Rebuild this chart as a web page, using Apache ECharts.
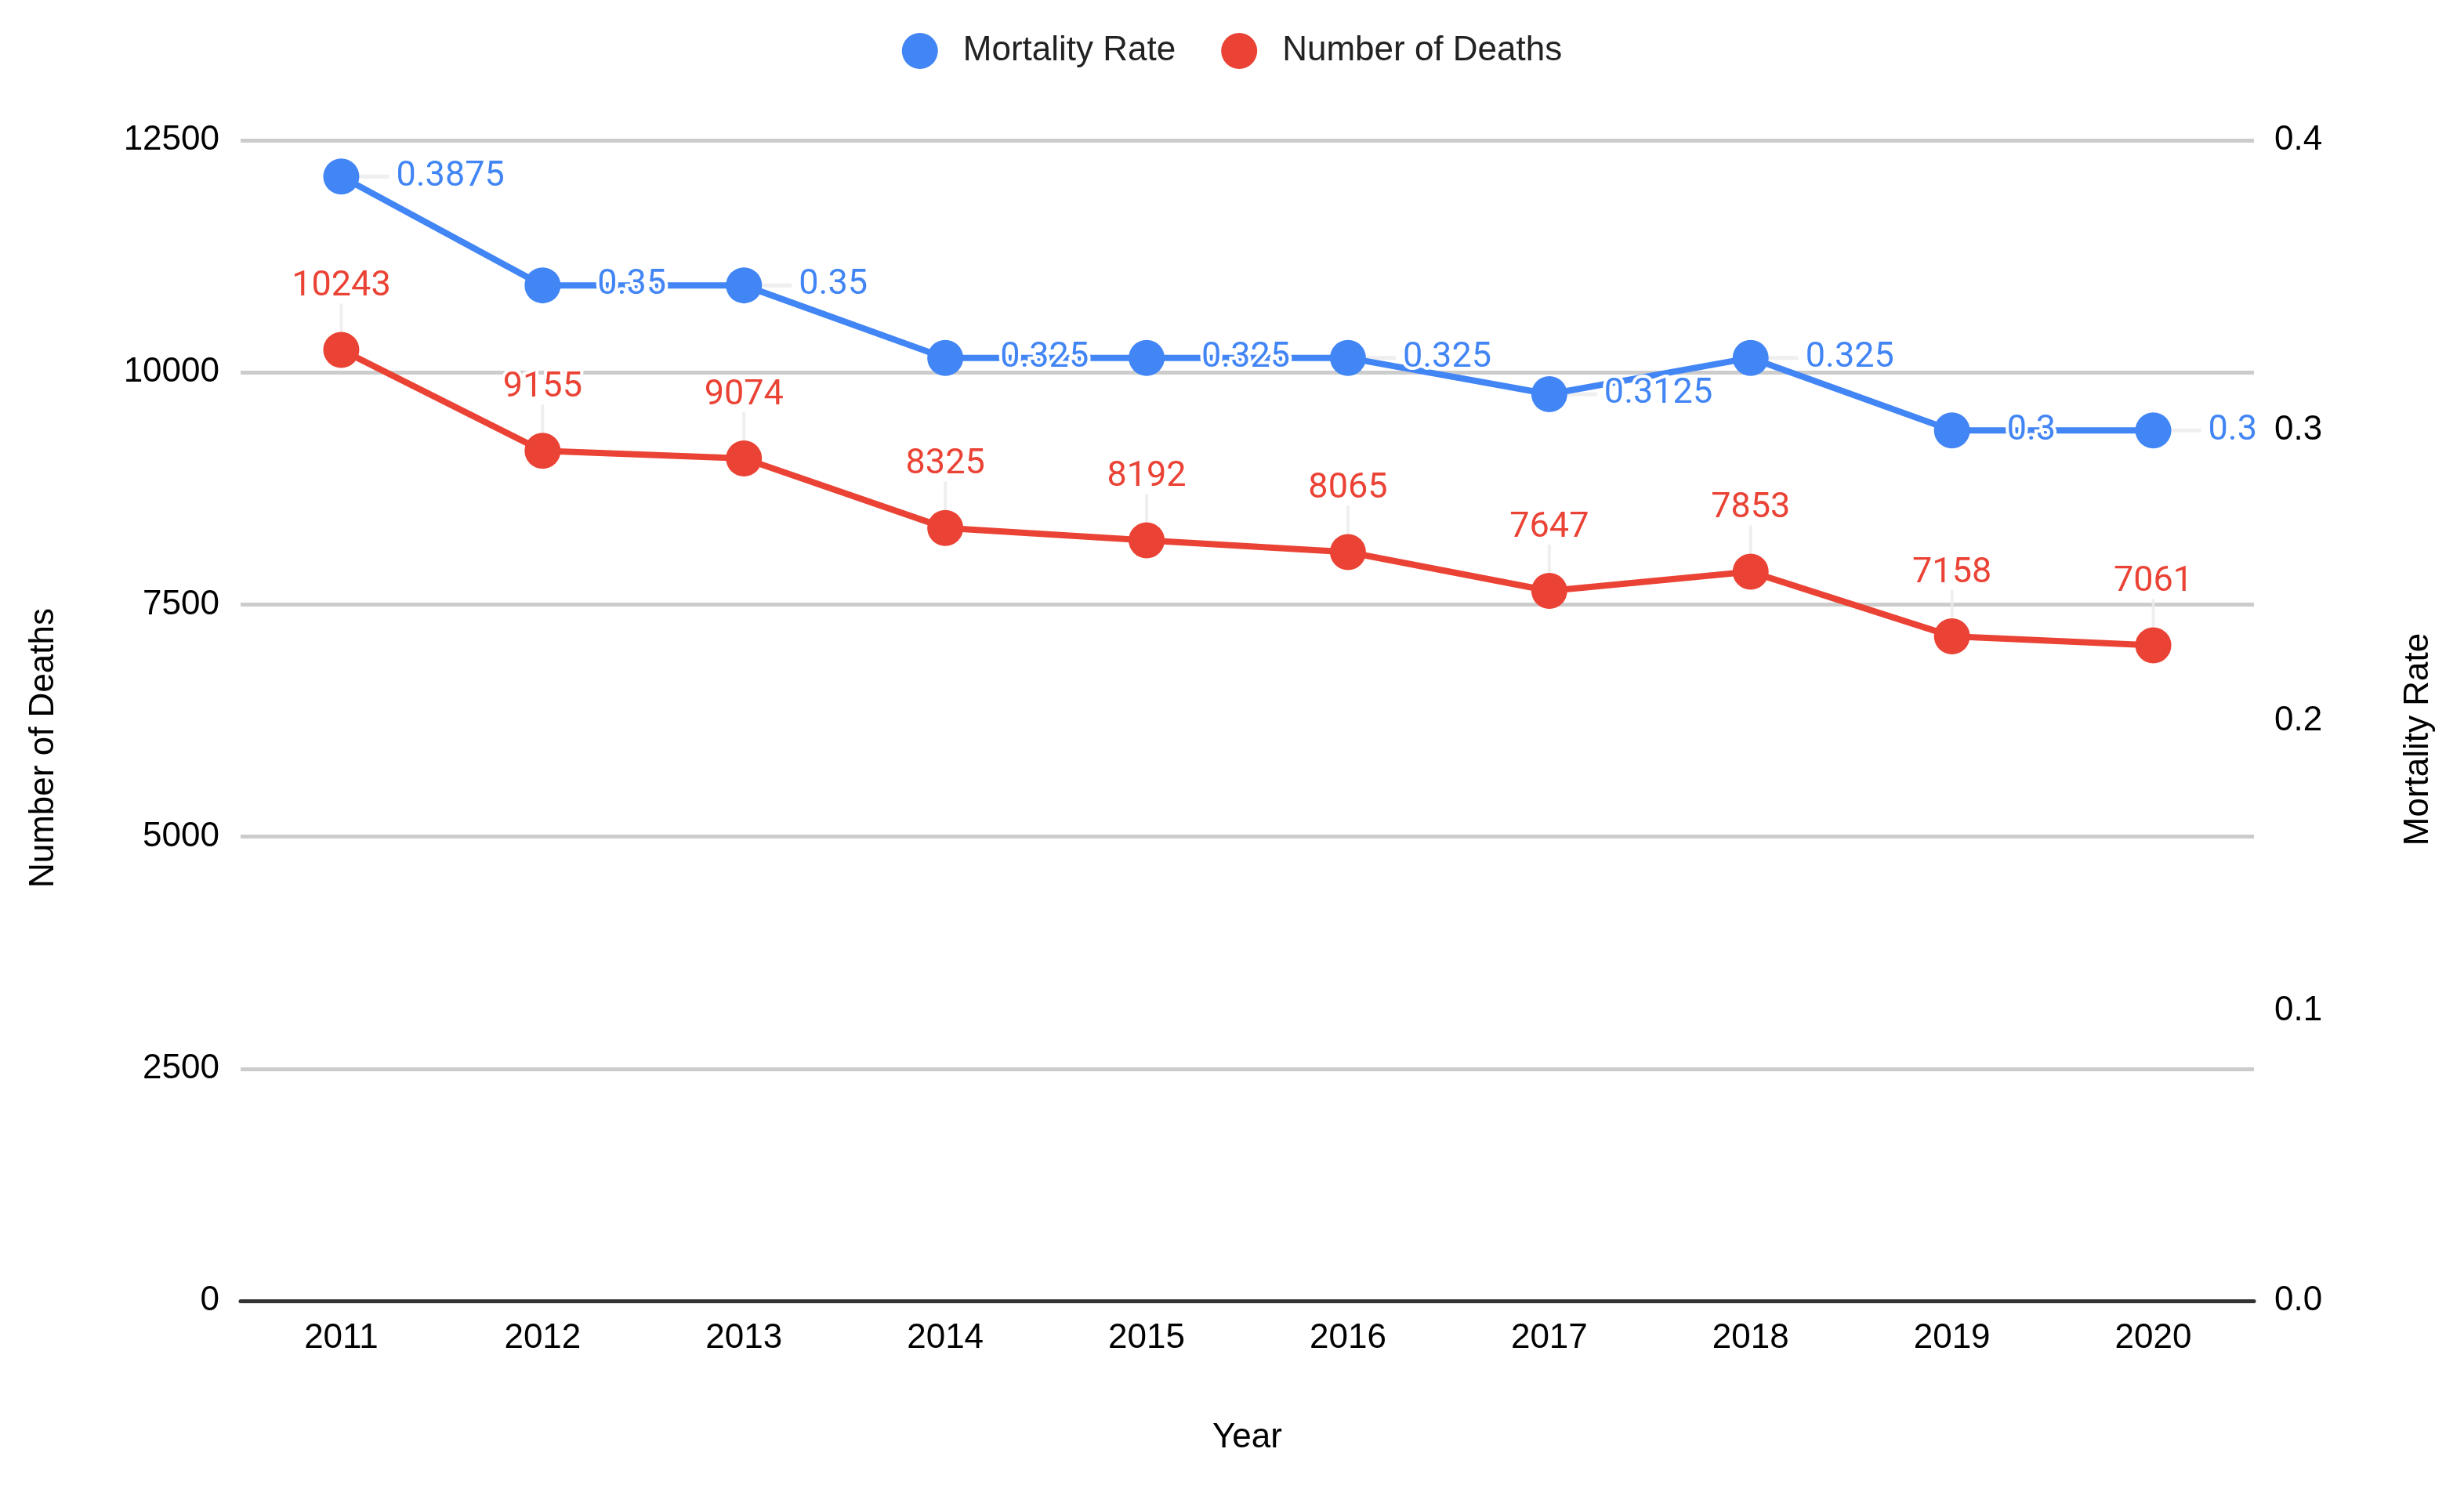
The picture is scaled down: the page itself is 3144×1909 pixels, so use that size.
<!DOCTYPE html>
<html>
<head>
<meta charset="utf-8">
<script src="https://cdn.jsdelivr.net/npm/echarts@6/dist/echarts.min.js"></script>
<style>
html,body{margin:0;padding:0;background:#fff;}
#chart{width:3144px;height:1909px;}
</style>
</head>
<body>
<div id="chart"></div>
<script>
const years = ['2011','2012','2013','2014','2015','2016','2017','2018','2019','2020'];
const mortalityRate = [0.3875, 0.35, 0.35, 0.325, 0.325, 0.325, 0.3125, 0.325, 0.3, 0.3];
const numberOfDeaths = [10243, 9155, 9074, 8325, 8192, 8065, 7647, 7853, 7158, 7061];
const leftTicks = {min: 0, max: 12500, interval: 2500};
const rightTicks = {min: 0, max: 0.4, interval: 0.1};

const BLUE = '#4285F4';
const RED = '#EA4335';
const GUIDE = '#ebebeb';
const AX_FONT = 'Liberation Sans, Arial, sans-serif';
const LBL_FONT = 'Roboto, sans-serif';

const chart = echarts.init(document.getElementById('chart'), null, {renderer: 'canvas'});
chart.setOption({
  animation: false,
  backgroundColor: '#ffffff',
  legend: {
    top: 37,
    left: 'center',
    icon: 'circle',
    itemWidth: 46,
    itemHeight: 46,
    itemGap: 58,
    textStyle: {fontSize: 44, color: '#222', fontFamily: AX_FONT, padding: [0, 0, 0, 27]},
    data: ['Mortality Rate', 'Number of Deaths']
  },
  grid: {left: 307, right: 268, top: 179, bottom: 249, containLabel: false, outerBoundsMode: 'none'},
  xAxis: {
    type: 'category',
    data: years,
    z: 5,
    name: 'Year',
    nameLocation: 'middle',
    nameGap: 153,
    nameTextStyle: {fontSize: 44, color: '#000', fontFamily: AX_FONT},
    axisLine: {show: true, lineStyle: {color: '#333', width: 5}},
    axisTick: {show: false},
    axisLabel: {fontSize: 44, color: '#000', fontFamily: AX_FONT, margin: 26},
    splitLine: {show: false}
  },
  yAxis: [
    {
      type: 'value',
      min: leftTicks.min, max: leftTicks.max, interval: leftTicks.interval,
      name: 'Number of Deaths',
      nameLocation: 'middle',
      nameRotate: 90,
      nameGap: 229,
      nameTextStyle: {fontSize: 44, color: '#000', fontFamily: AX_FONT, padding: [0, 70, 0, 0]},
      axisLine: {show: false},
      axisTick: {show: false},
      axisLabel: {fontSize: 44, color: '#000', fontFamily: AX_FONT, margin: 27,
        formatter: v => String(v)},
      splitLine: {show: true, lineStyle: {color: '#cccccc', width: 5}}
    },
    {
      type: 'value',
      position: 'right',
      min: rightTicks.min, max: rightTicks.max, interval: rightTicks.interval,
      name: 'Mortality Rate',
      nameLocation: 'middle',
      nameRotate: 90,
      nameGap: 188,
      nameTextStyle: {fontSize: 44, color: '#000', fontFamily: AX_FONT, padding: [0, 48, 0, 0]},
      axisLine: {show: false},
      axisTick: {show: false},
      axisLabel: {fontSize: 44, color: '#000', fontFamily: AX_FONT, margin: 26,
        formatter: v => v.toFixed(1)},
      splitLine: {show: false}
    }
  ],
  series: [
    {
      name: 'Mortality Rate guide',
      type: 'scatter',
      yAxisIndex: 1,
      data: mortalityRate,
      symbol: 'rect',
      symbolSize: [38, 5],
      symbolOffset: [42, 0],
      itemStyle: {color: GUIDE},
      silent: true,
      z: 1
    },
    {
      name: 'Number of Deaths guide',
      type: 'scatter',
      yAxisIndex: 0,
      data: numberOfDeaths,
      symbol: 'rect',
      symbolSize: [4, 36],
      symbolOffset: [0, -41],
      itemStyle: {color: GUIDE},
      silent: true,
      z: 1
    },
    {
      name: 'Mortality Rate',
      type: 'line',
      yAxisIndex: 1,
      data: mortalityRate,
      symbol: 'circle',
      symbolSize: 46,
      itemStyle: {color: BLUE},
      lineStyle: {color: BLUE, width: 8},
      z: 3,
      label: {
        show: true,
        position: 'right',
        distance: 38,
        padding: [0, 0, 0, 9],
        color: BLUE,
        fontSize: 45,
        fontWeight: 'normal',
        fontFamily: LBL_FONT,
        textBorderColor: '#ffffff',
        textBorderWidth: 8,
        formatter: p => String(p.value)
      }
    },
    {
      name: 'Number of Deaths',
      type: 'line',
      yAxisIndex: 0,
      data: numberOfDeaths,
      symbol: 'circle',
      symbolSize: 46,
      itemStyle: {color: RED},
      lineStyle: {color: RED, width: 8},
      z: 2,
      label: {
        show: true,
        position: 'top',
        distance: 35,
        color: RED,
        fontSize: 45,
        fontWeight: 'normal',
        fontFamily: LBL_FONT,
        textBorderColor: '#ffffff',
        textBorderWidth: 8,
        formatter: p => String(p.value)
      }
    }
  ]
});
</script>
</body>
</html>
